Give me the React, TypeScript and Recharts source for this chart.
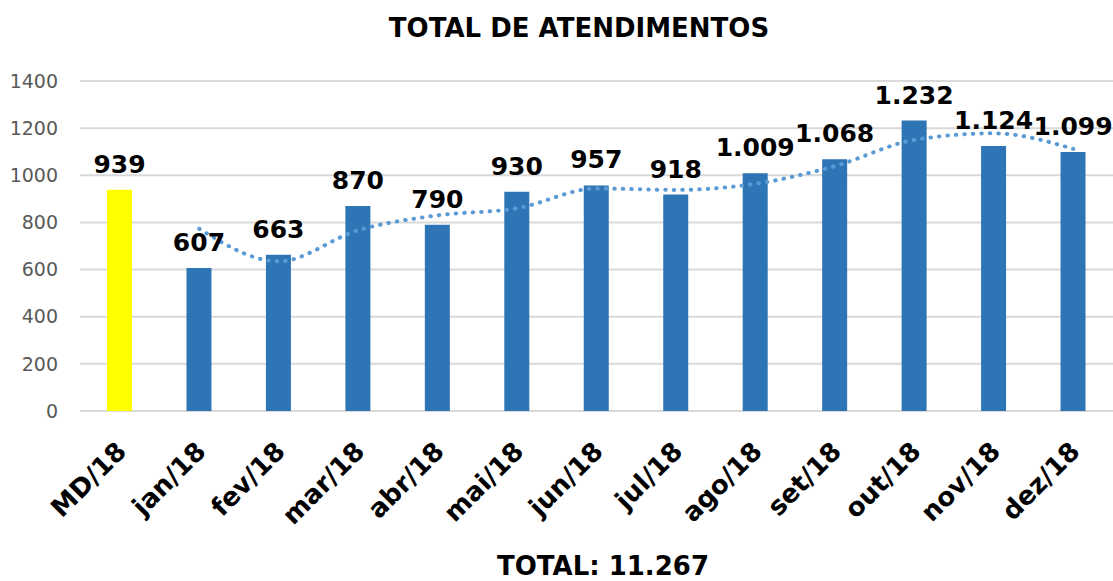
import { Bar, CartesianGrid, Cell, ComposedChart, LabelList, Line, XAxis, YAxis } from "recharts";

const months = ["MD/18", "jan/18", "fev/18", "mar/18", "abr/18", "mai/18", "jun/18", "jul/18", "ago/18", "set/18", "out/18", "nov/18", "dez/18"];
const atendimentos = [939, 607, 663, 870, 790, 930, 957, 918, 1009, 1068, 1232, 1124, 1099];
// dotted trend line (no point at MD/18)
const trend = [null, 773, 635, 767, 830, 860, 944, 938, 964, 1039, 1150, 1178, 1112];
const yTicks = [0, 200, 400, 600, 800, 1000, 1200, 1400];

const FONT = "'DejaVu Sans', Verdana, sans-serif";

const fmt = (v: number) => v.toLocaleString("de-DE");

const data = months.map((m, i) => ({ month: m, total: atendimentos[i], trend: trend[i] }));
// the total counts the months only, not MD/18
const total = atendimentos.slice(1).reduce((a, b) => a + b, 0);

function MonthTick({ x, y, payload }: any) {
  return (
    <g transform={`translate(${x + 8},${y + 42})`}>
      <text x={0} y={0} textAnchor="end" transform="rotate(-45)" fontFamily={FONT} fontWeight="bold" fontSize={26} fill="#000">
        {payload.value}
      </text>
    </g>
  );
}

export default function App() {
  return (
    <div style={{ position: "absolute", left: 0, top: 0, width: 1113, height: 581, background: "#fff" }}>
      <ComposedChart width={1113} height={581} data={data} margin={{ top: 81, right: 0, bottom: 0, left: 0 }}>
        <text x={579} y={37} textAnchor="middle" fontFamily={FONT} fontWeight="bold" fontSize={26} fill="#000">
          TOTAL DE ATENDIMENTOS
        </text>
        <text x={603} y={575} textAnchor="middle" fontFamily={FONT} fontWeight="bold" fontSize={26} fill="#000">
          TOTAL: {fmt(total)}
        </text>
        <CartesianGrid vertical={false} stroke="#D9D9D9" strokeWidth={2} />
        <XAxis dataKey="month" axisLine={false} tickLine={false} tickSize={0} tickMargin={0} height={170} interval={0} tick={<MonthTick />} />
        <YAxis
          domain={[0, 1400]}
          ticks={yTicks}
          width={80}
          axisLine={false}
          tickLine={false}
          tickMargin={16}
          tick={{ fontFamily: FONT, fontSize: 19, fill: "#595959" }}
        />
        <Bar dataKey="total" barSize={25} fill="#2E75B6" isAnimationActive={false}>
          {data.map((d, i) => (
            <Cell key={d.month} fill={i === 0 ? "#FFFF00" : "#2E75B6"} />
          ))}
          <LabelList dataKey="total" position="top" offset={17} formatter={(v: any) => fmt(Number(v))} style={{ fontFamily: FONT, fontWeight: "bold", fontSize: 25, fill: "#000" }} />
        </Bar>
        <Line
          dataKey="trend"
          type="monotone"
          stroke="#5B9BD5"
          strokeWidth={4}
          strokeDasharray="0.5 8"
          strokeLinecap="round"
          dot={false}
          activeDot={false}
          connectNulls={false}
          isAnimationActive={false}
        />
      </ComposedChart>
    </div>
  );
}
